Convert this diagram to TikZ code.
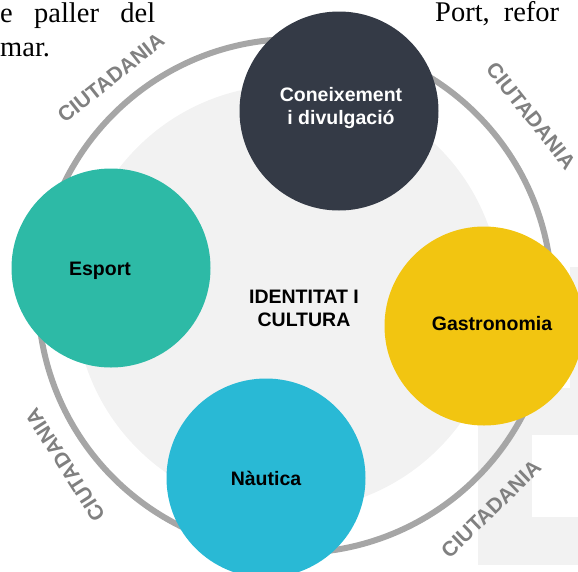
\documentclass[tikz,border=0pt]{standalone}
\usepackage{fontspec}
\setmainfont{Liberation Sans}
\newfontfamily\bodyserif{Liberation Serif}
\definecolor{bgg}{HTML}{F2F2F2}
\definecolor{ringc}{HTML}{A6A6A6}
\definecolor{labc}{HTML}{808080}
\definecolor{darkc}{HTML}{343A46}
\definecolor{tealc}{HTML}{2DBAA6}
\definecolor{yellc}{HTML}{F2C511}
\definecolor{cyanc}{HTML}{29B9D5}
\tikzset{
  bubble/.style={circle, inner sep=0pt, minimum size=199pt},
  lbl/.style={font=\fontsize{19.5}{23}\selectfont\bfseries, anchor=base, inner sep=0pt},
  ciut/.style={font=\fontsize{21}{24}\selectfont\bfseries, text=labc, inner sep=0pt},
  body/.style={font=\bodyserif\fontsize{28.5}{33}\selectfont, anchor=base west, inner sep=0pt}
}
\begin{document}
\begin{tikzpicture}[x=1pt,y=-1pt]
\useasboundingbox (0,0) rectangle (578,571);
% background watermark shapes
\fill[bgg] (570,267) rectangle (578,565);
\fill[bgg] (478,388) rectangle (578,565);
\fill[white] (532,435) rectangle (578,517);
% inner disk and ring
\fill[bgg] (288,298) circle (213);
\draw[ringc, line width=6pt] (295,296) circle (257);
% ring labels
\node[ciut, rotate=38.5] (l1) at (111,78) {CIUTADANIA};
\node[ciut, rotate=-51.5] (l2) at (531,116) {CIUTADANIA};
\node[ciut, rotate=122.5] (l3) at (65,465) {CIUTADANIA};
\node[ciut, rotate=44] (l4) at (491,509) {CIUTADANIA};
% bubbles
\node[bubble, fill=darkc] (b1) at (339,111) {};
\node[bubble, fill=tealc] (b2) at (111,268) {};
\node[bubble, fill=yellc] (b3) at (484,326) {};
\node[bubble, fill=cyanc] (b4) at (266,478) {};
% bubble texts
\node[lbl, text=white] (t1a) at (341,101) {Coneixement};
\node[lbl, text=white] (t1b) at (341,124) {i divulgació};
\node[lbl] (t2) at (100,275) {Esport};
\node[lbl] (t3) at (492,330) {Gastronomia};
\node[lbl] (t4) at (266,485) {Nàutica};
\node[lbl] (c1) at (304,303) {IDENTITAT I};
\node[lbl] (c2) at (304,326) {CULTURA};
% body text
\node[body] (p1) at (0,22) {\hbox to 155pt{e\hfill paller\hfill del}};
\node[body] (p2) at (0,56) {mar.};
\node[body] (p3) at (435,21) {Port,\hspace{14pt}refor};
\end{tikzpicture}
\end{document}
